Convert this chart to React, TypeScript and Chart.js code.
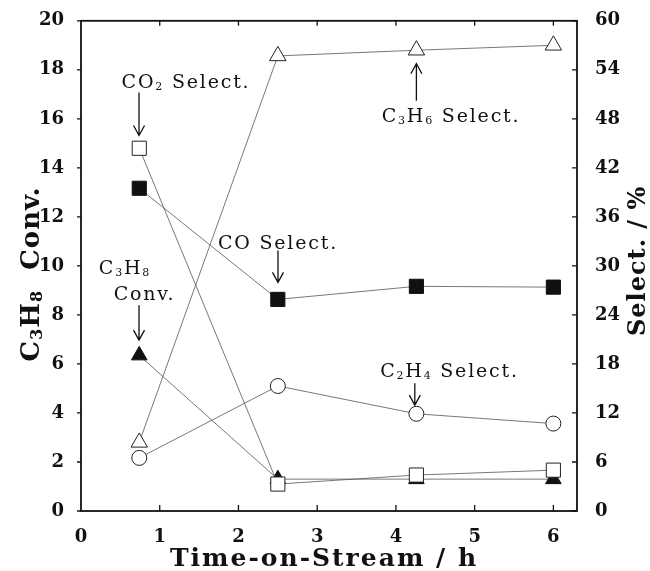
import { useEffect, useRef } from "react";
import { Chart, registerables } from "chart.js";

Chart.register(...registerables);

// ---- data ----
const timeH = [0.74, 2.5, 4.26, 6.0];
const c3h8Conv = [6.35, 1.3, 1.3, 1.3]; // left axis, %
const co2Select = [44.4, 3.3, 4.4, 5.0]; // right axis, %
const coSelect = [39.5, 25.9, 27.5, 27.4];
const c3h6Select = [8.4, 55.7, 56.4, 57.0];
const c2h4Select = [6.5, 15.3, 11.9, 10.7];

const xTicks = [0, 1, 2, 3, 4, 5, 6];
const leftTicks = [0, 2, 4, 6, 8, 10, 12, 14, 16, 18, 20];
const rightTicks = [0, 6, 12, 18, 24, 30, 36, 42, 48, 54, 60];

// annotation labels ("_" marks a subscript digit); positions in x / left-axis units
const noteTexts = ["CO_2 Select.", "C_3H_6 Select.", "CO Select.", "C_3H_8", "Conv.", "C_2H_4 Select."];
const noteX = [1.334, 4.70, 2.502, 0.559, 0.807, 4.68];
const noteY = [17.52, 16.13, 10.96, 9.94, 8.88, 5.74];
// arrows: x, tail y, tip y (left-axis units)
const arrowX = [0.737, 4.26, 2.502, 0.737, 4.24];
const arrowFrom = [17.07, 16.74, 10.63, 8.39, 5.21];
const arrowTo = [15.32, 18.25, 9.33, 6.97, 4.32];

const SERIF = "'DejaVu Serif', 'Liberation Serif', serif";

function drawRich(
  ctx: CanvasRenderingContext2D,
  text: string,
  cx: number,
  cy: number,
  size: number,
  weight: string,
  spacing: number
) {
  (ctx as any).letterSpacing = `${spacing}px`;
  const parts = text.split(/_(\d)/);
  const subSize = Math.round(size * 0.6);
  let w = 0;
  parts.forEach((p, i) => {
    ctx.font = `${weight} ${i % 2 ? subSize : size}px ${SERIF}`;
    w += ctx.measureText(p).width;
  });
  let x = cx - w / 2;
  ctx.textAlign = "left";
  ctx.textBaseline = "alphabetic";
  const base = cy + size * 0.36;
  parts.forEach((p, i) => {
    const sub = i % 2 === 1;
    ctx.font = `${weight} ${sub ? subSize : size}px ${SERIF}`;
    ctx.fillText(p, x, sub ? base + size * 0.1 : base);
    x += ctx.measureText(p).width;
  });
  (ctx as any).letterSpacing = "0px";
}

const decorPlugin = {
  id: "decor",
  afterDraw(chart: any) {
    const ctx: CanvasRenderingContext2D = chart.ctx;
    const { left, right, top, bottom } = chart.chartArea;
    const xs = chart.scales.x;
    const ys = chart.scales.y;
    const y1 = chart.scales.y1;
    ctx.save();
    ctx.strokeStyle = "#111";
    ctx.fillStyle = "#111";
    // frame
    ctx.lineWidth = 1.8;
    ctx.strokeRect(left, top, right - left, bottom - top);
    // ticks
    ctx.lineWidth = 1.3;
    ctx.beginPath();
    xTicks.forEach((v) => {
      const px = xs.getPixelForValue(v);
      if (v > 0) {
        ctx.moveTo(px, bottom);
        ctx.lineTo(px, bottom - 6);
        ctx.moveTo(px, top);
        ctx.lineTo(px, top + 5);
      }
    });
    leftTicks.forEach((v) => {
      const py = ys.getPixelForValue(v);
      ctx.moveTo(left, py);
      ctx.lineTo(left - 4, py);
    });
    rightTicks.forEach((v) => {
      const py = y1.getPixelForValue(v);
      ctx.moveTo(right, py);
      ctx.lineTo(right - 5, py);
    });
    ctx.stroke();

    // annotation arrows
    ctx.lineWidth = 1.3;
    arrowX.forEach((ax, i) => {
      const px = xs.getPixelForValue(ax);
      const p0 = ys.getPixelForValue(arrowFrom[i]);
      const p1 = ys.getPixelForValue(arrowTo[i]);
      const dir = p1 > p0 ? 1 : -1;
      ctx.beginPath();
      ctx.moveTo(px, p0);
      ctx.lineTo(px, p1);
      ctx.moveTo(px - 5.5, p1 - dir * 10);
      ctx.lineTo(px, p1);
      ctx.lineTo(px + 5.5, p1 - dir * 10);
      ctx.stroke();
    });
    // annotation labels
    noteTexts.forEach((t, i) => {
      drawRich(ctx, t, xs.getPixelForValue(noteX[i]), ys.getPixelForValue(noteY[i]), 19, "normal", 1.8);
    });

    // axis titles
    drawRich(ctx, "Time-on-Stream / h", (left + right) / 2 - 5, 557, 25, "bold", 2);
    ctx.save();
    ctx.translate(30, (top + bottom) / 2 + 8);
    ctx.rotate(-Math.PI / 2);
    drawRich(ctx, "C_3H_8  Conv.", 0, 0, 26, "bold", 1);
    ctx.restore();
    ctx.save();
    ctx.translate(636, (top + bottom) / 2 - 5);
    ctx.rotate(-Math.PI / 2);
    drawRich(ctx, "Select. / %", 0, 0, 24, "bold", 1);
    ctx.restore();
    ctx.restore();
  },
};

export default function App() {
  const ref = useRef<HTMLCanvasElement | null>(null);
  useEffect(() => {
    if (!ref.current) return;
    const line = { borderColor: "#555", borderWidth: 0.8, showLine: true };
    const tickFont = { family: SERIF, size: 18, weight: "bold" as const };
    const chart = new Chart(ref.current, {
      type: "scatter",
      data: {
        datasets: [
          {
            label: "CO2 Select.",
            data: timeH.map((x, i) => ({ x, y: co2Select[i] })),
            yAxisID: "y1",
            pointStyle: "rect",
            pointRadius: 10,
            pointBackgroundColor: "#fff",
            pointBorderColor: "#222",
            pointBorderWidth: 1,
            order: 1,
            ...line,
          },
          {
            label: "C3H8 Conv.",
            data: timeH.map((x, i) => ({ x, y: c3h8Conv[i] })),
            yAxisID: "y",
            pointStyle: "triangle",
            pointRadius: 9,
            pointBackgroundColor: "#111",
            pointBorderColor: "#111",
            pointBorderWidth: 1,
            order: 2,
            ...line,
          },
          {
            label: "CO Select.",
            data: timeH.map((x, i) => ({ x, y: coSelect[i] })),
            yAxisID: "y1",
            pointStyle: "rect",
            pointRadius: 10,
            pointBackgroundColor: "#111",
            pointBorderColor: "#111",
            pointBorderWidth: 1,
            order: 3,
            ...line,
          },
          {
            label: "C3H6 Select.",
            data: timeH.map((x, i) => ({ x, y: c3h6Select[i] })),
            yAxisID: "y1",
            pointStyle: "triangle",
            pointRadius: 9.5,
            pointBackgroundColor: "#fff",
            pointBorderColor: "#222",
            pointBorderWidth: 1,
            order: 4,
            ...line,
          },
          {
            label: "C2H4 Select.",
            data: timeH.map((x, i) => ({ x, y: c2h4Select[i] })),
            yAxisID: "y1",
            pointStyle: "circle",
            pointRadius: 7.5,
            pointBackgroundColor: "#fff",
            pointBorderColor: "#222",
            pointBorderWidth: 1,
            order: 5,
            ...line,
          },
        ],
      },
      options: {
        animation: false,
        responsive: false,
        layout: { padding: { top: 20, left: 0, right: 0, bottom: 0 } },
        plugins: { legend: { display: false }, tooltip: { enabled: false } },
        scales: {
          x: {
            type: "linear",
            min: 0,
            max: 6.3,
            grid: { display: false },
            border: { display: false },
            afterBuildTicks: (s: any) => {
              s.ticks = xTicks.map((v) => ({ value: v }));
            },
            afterFit: (s: any) => {
              s.height = 60;
            },
            ticks: { font: tickFont, color: "#111", padding: 8, maxRotation: 0, autoSkip: false },
          },
          y: {
            type: "linear",
            position: "left",
            min: 0,
            max: 20,
            grid: { display: false },
            border: { display: false },
            afterBuildTicks: (s: any) => {
              s.ticks = leftTicks.map((v) => ({ value: v }));
            },
            afterFit: (s: any) => {
              s.width = 81;
            },
            ticks: { font: tickFont, color: "#111", padding: 9, autoSkip: false },
          },
          y1: {
            type: "linear",
            position: "right",
            min: 0,
            max: 60,
            grid: { display: false },
            border: { display: false },
            afterBuildTicks: (s: any) => {
              s.ticks = rightTicks.map((v) => ({ value: v }));
            },
            afterFit: (s: any) => {
              s.width = 73;
            },
            ticks: { font: tickFont, color: "#111", padding: 10, autoSkip: false },
          },
        },
      },
      plugins: [decorPlugin],
    });
    return () => chart.destroy();
  }, []);
  return (
    <canvas
      ref={ref}
      width={650}
      height={571}
      style={{ position: "fixed", left: 0, top: 0, display: "block", background: "#fff" }}
    />
  );
}
